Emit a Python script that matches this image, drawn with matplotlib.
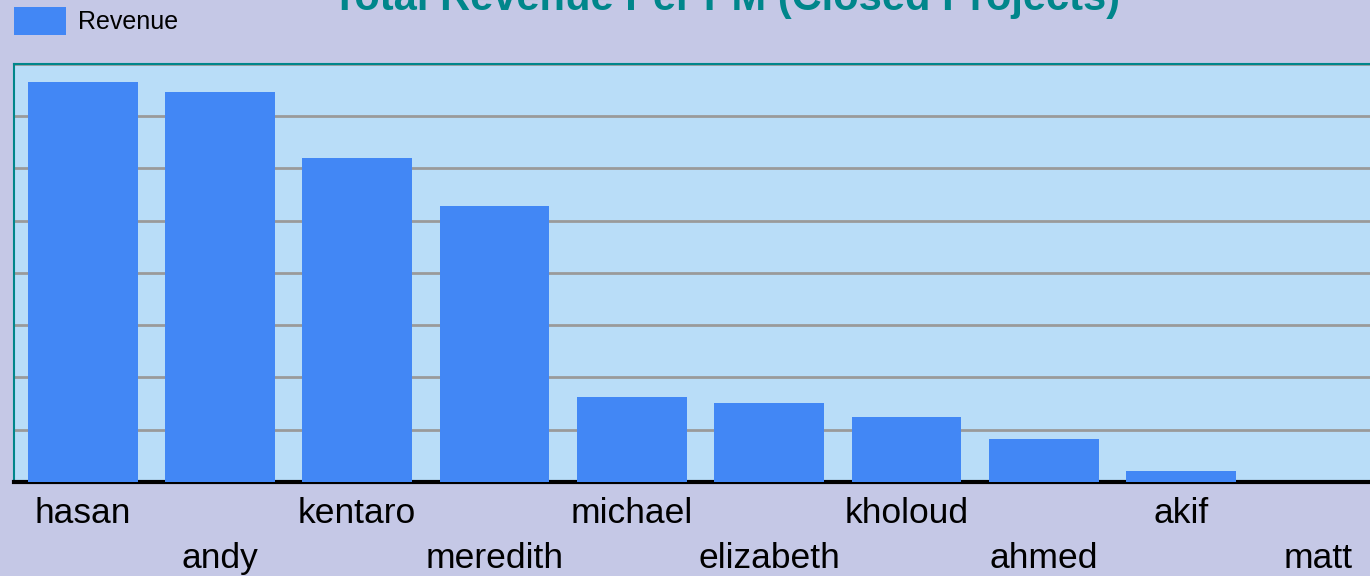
import matplotlib.pyplot as plt

# revenue per project manager (closed projects)
pms = ["hasan", "andy", "kentaro", "meredith", "michael",
       "elizabeth", "kholoud", "ahmed", "akif", "matt"]
revenue = [383000, 373500, 310000, 264000, 81500,
           76000, 62500, 41500, 10500, 0]

plt.rcParams["font.family"] = ["Liberation Sans", "DejaVu Sans"]

fig = plt.figure(figsize=(13.7, 5.76), dpi=100, facecolor="#c5c8e6")
ax = fig.add_axes([0.0102, 0.1632, 1.0022, 0.7257])
ax.set_facecolor("#b9ddf8")

ax.bar(range(len(pms)), revenue, width=0.8, color="#4287f5", label="Revenue",
       zorder=3)
ax.set_xlim(-0.5, len(pms) - 0.5)
ax.set_ylim(0, 400000)
ax.set_yticks(range(0, 400001, 50000))
ax.yaxis.grid(True, color="#9a9a9a", linewidth=2, zorder=1)
ax.tick_params(axis="y", left=False, labelleft=False)

# alternate labels on two rows so they fit
labels = [p if i % 2 == 0 else "\n" + p for i, p in enumerate(pms)]
ax.set_xticks(range(len(pms)))
ax.set_xticklabels(labels, fontsize=25.5, linespacing=1.45)
ax.tick_params(axis="x", length=0, pad=11)

for side in ["left", "top", "right"]:
    ax.spines[side].set_color("#00868b")
    ax.spines[side].set_linewidth(1.5)
ax.spines["bottom"].set_color("black")
ax.spines["bottom"].set_linewidth(3)

fig.text(0.53, 0.982, "Total Revenue Per PM (Closed Projects)", ha="center",
         va="baseline", fontsize=30, fontweight="bold", color="#00868b")

fig.legend(loc="upper left", bbox_to_anchor=(0.0102, 0.9885), frameon=False,
           fontsize=18, handlelength=2.1, handleheight=1.35,
           handletextpad=0.45, borderpad=0, borderaxespad=0)

plt.savefig("out.png", dpi=100, facecolor=fig.get_facecolor())
